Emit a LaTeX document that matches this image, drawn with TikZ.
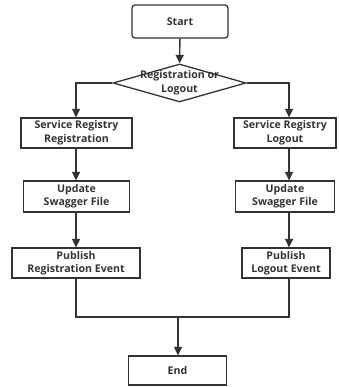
\documentclass[tikz,border=0pt]{standalone}
\usepackage{fontspec}
\setmainfont{Open Sans}
\usetikzlibrary{arrows.meta,shapes.geometric,calc}
\definecolor{ink}{HTML}{333333}
\begin{document}
\begin{tikzpicture}[x=1pt,y=1pt,
  every node/.style={font=\fontsize{10.6}{13.5}\selectfont\bfseries, text=ink, align=center},
  box/.style={draw=ink, line width=1.3pt, inner sep=0pt},
  conn/.style={draw=ink, line width=1.4pt},
  arr/.style={conn, -{Triangle[length=8.5pt,width=8pt]}}]
\useasboundingbox (0,0) rectangle (338,387);
% helper: y = 387 - py
\node[box, rounded corners=3pt, minimum width=96pt, minimum height=33pt] (start) at (180,365.5) {Start};
\node[draw=ink, line width=1.3pt, diamond, inner sep=0pt, minimum width=133pt, minimum height=38pt] (dec) at (179.5,304) {};
\node (dectext) at (dec.center) {Registration or\\Logout};
\node[box, minimum width=111pt, minimum height=30pt] (l1) at (76.5,254) {Service Registry\\Registration};
\node[box, minimum width=106pt, minimum height=31pt] (l2) at (76.5,190.5) {Update\\Swagger File};
\node[box, minimum width=128pt, minimum height=30pt] (l3) at (76,124) {Publish\\Registration Event};
\node[box, minimum width=102pt, minimum height=30pt] (r1) at (285,254) {Service Registry\\Logout};
\node[box, minimum width=99pt, minimum height=31pt] (r2) at (285,190.5) {Update\\Swagger File};
\node[box, minimum width=88pt, minimum height=30pt] (r3) at (286,124) {Publish\\Logout Event};
\node[box, minimum width=98pt, minimum height=29pt] (endn) at (177.5,16.5) {End};
\coordinate (colL) at (76,0);
\coordinate (colR) at (289,0);
\coordinate (merge) at (178,70);
\draw[arr] (start) -- (dec);
\draw[arr] (dec.west) -| (l1.north -| colL);
\draw[arr] (dec.east) -| (r1.north -| colR);
\draw[arr] (l1.south -| colL) -- (l2.north -| colL);
\draw[arr] (l2.south -| colL) -- (l3.north -| colL);
\draw[arr] (r1.south -| colR) -- (r2.north -| colR);
\draw[arr] (r2.south -| colR) -- (r3.north -| colR);
\draw[conn] (l3.south -| colL) |- (merge) -| (r3.south -| colR);
\draw[arr] (merge) -- (endn.north -| merge);
\end{tikzpicture}
\end{document}
